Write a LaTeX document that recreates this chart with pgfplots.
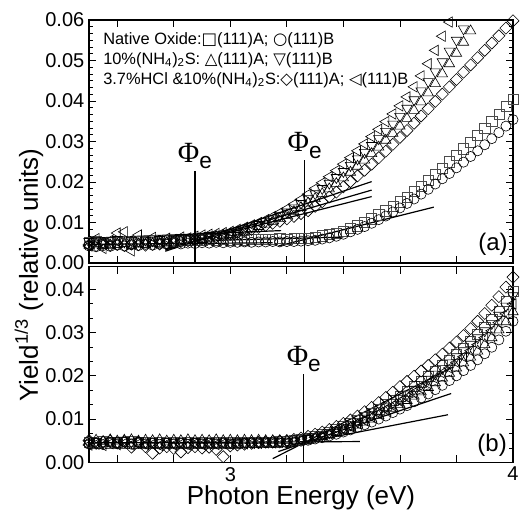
\documentclass[border=0pt]{standalone}
\usepackage{fontspec}
\setmainfont{Liberation Sans}
\newfontfamily\symf{DejaVu Sans}
\newfontfamily\serf{Liberation Serif}
\usepackage{pgfplots}
\usepackage{pgfplotstable}
\pgfplotsset{compat=1.18}

% yield^(1/3) in units of 1e-3; columns: square circle up-tri down-tri diamond left-tri
\pgfplotstableread{
E     sq   ci   tu   td   di   tl
2.500 5.0  4.2  4.4  5.3  4.5  4.2
2.525 5.3  4.0  4.7  5.6  4.3  6.0
2.550 4.9  4.3  4.5  5.0  4.8  3.6
2.575 5.2  4.1  4.3  5.5  4.4  5.6
2.600 5.1  4.4  4.6  5.8  4.6  7.4
2.625 5.4  4.2  4.8  5.2  4.3  7.7
2.650 5.0  4.5  4.4  5.6  4.7  3.0
2.675 5.3  4.3  4.7  5.4  4.5  6.9
2.700 5.2  4.6  4.5  5.7  4.4  5.2
2.725 5.5  4.4  4.8  5.5  4.6  6.3
2.750 5.3  4.7  4.6  5.8  4.7  5.5
2.775 5.5  4.6  4.9  5.9  4.9  6.1
2.800 5.4  4.8  5.0  6.0  5.1  5.8
2.825 5.6  4.7  5.2  6.1  5.3  6.4
2.850 5.5  4.9  5.4  6.2  5.5  6.2
2.875 5.7  4.8  5.6  6.4  5.7  6.6
2.900 5.6  5.0  5.8  6.6  5.9  6.9
2.925 5.8  4.9  6.1  6.8  6.2  7.1
2.950 5.7  5.1  6.4  7.0  6.5  7.3
2.975 5.8  5.0  6.7  7.2  6.8  7.5
3.000 5.7  5.1  7.0  7.4  7.1  7.8
3.025 5.8  5.1  7.4  7.9  7.5  8.3
3.050 5.7  5.2  7.9  8.4  7.9  8.8
3.075 5.9  5.1  8.4  8.9  8.3  9.4
3.100 5.8  5.2  9.0  9.5  8.8  10.0
3.125 5.9  5.2  9.6  10.2 9.3  10.7
3.150 5.8  5.3  10.3 10.9 9.8  11.5
3.175 6.0  5.2  11.0 11.7 10.3 12.4
3.200 5.9  5.3  11.8 12.6 10.9 13.4
3.225 6.0  5.3  12.7 13.6 11.5 14.5
3.250 6.1  5.4  13.7 14.7 12.2 15.7
3.275 6.2  5.5  14.8 15.9 12.9 17.0
3.300 6.4  5.6  15.9 17.1 14.0 18.4
3.325 6.7  5.9  17.1 18.4 15.1 19.8
3.350 7.0  6.2  18.3 19.7 16.3 21.3
3.375 7.4  6.6  19.6 21.1 17.5 22.8
3.400 7.9  7.1  21.0 22.6 18.8 24.4
3.425 8.5  7.7  22.4 24.1 20.1 26.0
3.450 9.2  8.3  23.9 25.7 21.5 27.7
3.475 10.0 9.0  25.4 27.3 22.9 29.4
3.500 10.9 9.8  27.0 29.0 24.4 31.2
3.525 11.9 10.7 28.6 30.7 26.0 33.0
3.550 12.9 11.6 30.3 32.5 27.6 34.9
3.575 14.0 12.6 32.0 34.3 29.3 36.8
3.600 15.1 13.6 33.8 36.2 31.0 38.8
3.625 16.3 14.7 35.7 38.2 32.7 41.0
3.650 17.6 15.8 37.7 40.3 34.5 43.5
3.675 19.0 17.0 39.8 42.5 36.3 46.2
3.700 20.4 18.2 42.0 44.8 38.1 49.2
3.725 21.9 19.5 44.3 47.2 39.9 52.5
3.750 23.4 20.8 46.7 49.7 41.7 56.0
3.775 25.0 22.1 49.2 52.3 43.5 59.5
3.800 26.6 23.5 51.8 55.0 45.3 nan
3.825 28.2 24.9 54.5 57.8 47.1 nan
3.850 29.9 26.3 57.3 60.7 48.9 nan
3.875 31.6 27.7 60.2 nan  50.7 nan
3.900 33.3 29.2 nan  nan  52.5 nan
3.925 35.0 30.7 nan  nan  54.3 nan
3.950 36.8 32.2 nan  nan  56.1 nan
3.975 38.6 33.8 nan  nan  58.0 nan
4.000 40.5 35.4 nan  nan  59.8 nan
}\topdata

\pgfplotstableread{
E     sq   ci   tu   td   di   tl
2.500 4.6  4.2  4.9  4.4  5.0  4.0
2.525 4.3  4.5  5.1  4.9  4.4  4.2
2.550 4.8  4.1  4.8  4.5  4.7  3.9
2.575 4.4  4.6  5.2  5.0  4.9  4.3
2.600 4.7  4.3  4.9  4.6  4.5  4.1
2.625 4.5  4.7  5.1  5.1  4.8  4.4
2.650 4.8  4.2  5.2  4.7  3.5  4.0
2.675 4.4  4.6  4.9  5.0  4.6  4.3
2.700 4.6  4.3  5.1  4.6  3.6  4.1
2.725 4.3  4.5  5.0  4.9  2.1  4.2
2.750 4.6  4.2  5.2  4.5  3.3  3.9
2.775 4.4  4.5  4.9  4.8  3.6  4.2
2.800 4.6  4.3  5.1  4.6  3.2  4.0
2.825 4.3  4.5  5.0  4.9  2.4  4.2
2.850 4.6  4.2  5.2  4.6  3.4  4.0
2.875 4.4  4.5  5.0  4.8  3.6  4.3
2.900 4.6  4.3  5.1  4.6  3.3  4.1
2.925 4.4  4.5  5.0  4.9  3.5  4.3
2.950 4.6  4.3  5.2  4.6  3.0  4.1
2.975 4.5  4.5  5.0  4.8  1.3  4.3
3.000 4.6  4.3  5.1  4.6  3.8  4.2
3.025 4.5  4.5  5.0  4.8  4.0  4.3
3.050 4.6  4.4  5.1  4.7  4.2  4.3
3.075 4.6  4.5  5.0  4.8  4.4  4.4
3.100 4.7  4.4  5.1  4.7  4.6  4.4
3.125 4.7  4.5  5.0  4.8  4.7  4.5
3.150 4.7  4.5  5.0  4.7  4.8  4.5
3.175 4.8  4.5  5.0  4.8  4.9  4.6
3.200 4.8  4.5  5.0  4.7  5.0  4.6
3.225 5.0  4.7  5.0  4.9  5.3  4.9
3.250 5.3  4.9  5.1  5.2  5.6  5.1
3.275 5.6  5.1  5.3  5.5  6.0  5.4
3.300 6.0  5.4  5.6  5.9  6.5  5.8
3.325 6.5  5.7  6.0  6.3  7.0  6.2
3.350 7.0  6.1  6.4  6.8  7.6  6.6
3.375 7.6  6.5  6.9  7.4  8.3  7.1
3.400 8.2  7.0  7.4  8.0  9.0  7.7
3.425 8.9  7.5  8.0  8.7  9.8  8.3
3.450 9.7  8.1  8.6  9.4  10.7 9.0
3.475 10.5 8.7  9.3  10.2 11.7 9.7
3.500 11.4 9.3  10.0 11.0 12.7 10.5
3.525 12.3 10.0 10.8 11.9 13.8 11.3
3.550 13.3 10.7 11.6 12.8 15.0 12.2
3.575 14.3 11.5 12.5 13.8 16.2 13.1
3.600 15.3 12.3 13.4 14.8 17.5 14.1
3.625 16.4 13.1 14.3 15.8 18.7 15.0
3.650 17.5 14.0 15.3 16.9 19.9 16.1
3.675 18.6 14.9 16.3 18.0 21.1 17.1
3.700 19.8 15.8 17.3 19.2 22.4 18.2
3.725 21.0 16.8 18.4 20.4 23.7 19.4
3.750 22.3 17.8 19.5 21.7 25.0 20.6
3.775 23.6 18.9 20.6 23.0 26.4 21.8
3.800 25.0 20.0 21.8 24.4 27.8 23.1
3.825 26.4 21.2 23.0 25.8 29.3 24.4
3.850 27.9 22.4 24.3 27.3 30.9 25.8
3.875 29.5 23.7 25.7 28.8 32.6 27.2
3.900 31.2 25.1 27.2 30.4 34.4 28.8
3.925 33.0 26.6 28.8 32.1 36.3 30.4
3.950 35.0 28.3 30.6 34.0 38.3 32.3
3.975 37.2 30.3 32.5 36.1 40.5 34.3
4.000 39.6 32.6 34.8 38.5 42.8 36.6
}\botdata

\newcommand{\phie}{{\fontsize{22}{22}\selectfont\serf Φ}{\fontsize{17}{17}\selectfont\raisebox{-0.55ex}{e}}}

\begin{document}
\begin{tikzpicture}
\pgfplotsset{
  panel/.style={scale only axis, width=318pt, xmin=2.5, xmax=4,
    xtick={2.6,2.8,3,3.2,3.4,3.6,3.8,4},
    tick align=inside, major tick length=5.5pt, minor tick length=3pt,
    every tick/.append style={black, line width=0.6pt},
    axis line style={line width=0.8pt},
    tick label style={font=\fontsize{15}{15}\selectfont},
    /pgf/number format/assume math mode=true},
  msq/.style={only marks, mark=square, mark size=3.8pt,
    mark options={draw=black!70, line width=0.45pt}},
  mci/.style={only marks, mark=o, mark size=3.8pt,
    mark options={draw=black, line width=0.45pt}},
  mtu/.style={only marks, mark=triangle, mark size=4.5pt,
    mark options={draw=black, line width=0.45pt}},
  mtd/.style={only marks, mark=triangle, mark size=4.5pt,
    mark options={draw=black, line width=0.45pt, rotate=180}},
  mtl/.style={only marks, mark=triangle, mark size=4.5pt,
    mark options={draw=black, line width=0.45pt, rotate=90}},
  mdi/.style={only marks, mark=square, mark size=3.2pt,
    mark options={draw=black, line width=0.45pt, rotate=45}},
  fit/.style={black, line width=0.9pt, no marks},
}

% top panel (a)
\begin{axis}[panel, at={(0,0)}, anchor=south west, height=182.25pt,
  ymin=0, ymax=60, ytick={0,10,20,30,40,50,60},
  yticklabels={0.00,0.01,0.02,0.03,0.04,0.05,0.06},
  minor y tick num=5, xticklabels={,,,,,,,}]
\addplot[msq] table[x=E,y=sq]{\topdata};
\addplot[mci] table[x=E,y=ci]{\topdata};
\addplot[mdi] table[x=E,y=di]{\topdata};
\addplot[mtu] table[x=E,y=tu]{\topdata};
\addplot[mtd] table[x=E,y=td]{\topdata};
\addplot[mtl] table[x=E,y=tl]{\topdata};
\addplot[fit] coordinates {(2.77,2.9) (3.50,20.1)};
\addplot[fit] coordinates {(2.77,3.2) (3.50,18.0)};
\addplot[fit] coordinates {(2.77,3.5) (3.50,16.4)};
\addplot[fit] coordinates {(2.50,6.1) (3.18,8.0)};
\addplot[fit] coordinates {(2.50,4.6) (3.15,5.0)};
\addplot[fit] coordinates {(2.95,5.6) (3.40,6.4)};
\addplot[fit] coordinates {(3.17,4.2) (3.72,13.8)};
\addplot[black, line width=0.8pt] coordinates {(2.875,0) (2.875,22.8)};
\addplot[black, line width=0.8pt] coordinates {(3.263,0) (3.263,25.4)};
\node[anchor=south, inner sep=1pt] at (axis cs:2.875,22.8) {\phie};
\node[anchor=south, inner sep=1pt] at (axis cs:3.263,25.4) {\phie};
\node[anchor=north west, inner sep=0pt, align=left,
  font=\fontsize{12.3}{15}\selectfont] at (rel axis cs:0.033,0.95)
  {Native Oxide:{\symf □}(111)A; {\symf ○}(111)B\\
   10\%(NH\textsubscript{4})\textsubscript{2}S: {\symf △}(111)A; {\symf ▽}(111)B\\
   3.7\%HCl \&10\%(NH\textsubscript{4})\textsubscript{2}S:{\symf ◇}(111)A; {\symf ◁}(111)B};
\node[anchor=south east, inner sep=0pt, font=\fontsize{18}{18}\selectfont]
  at (rel axis cs:0.988,0.03) {(a)};
\end{axis}

% bottom panel (b)
\begin{axis}[panel, at={(0,-2.5pt)}, anchor=north west, height=147pt,
  ymin=0, ymax=45.3, ytick={0,10,20,30,40},
  yticklabels={0.00,0.01,0.02,0.03,0.04},
  minor y tick num=2, xticklabels={,,3,,,,,4}]
\addplot[msq] table[x=E,y=sq]{\botdata};
\addplot[mci] table[x=E,y=ci]{\botdata};
\addplot[mtu] table[x=E,y=tu]{\botdata};
\addplot[mtd] table[x=E,y=td]{\botdata};
\addplot[mtl] table[x=E,y=tl]{\botdata};
\addplot[mdi] table[x=E,y=di]{\botdata};
\addplot[fit] coordinates {(3.15,0.85) (3.787,22.0)};
\addplot[fit] coordinates {(3.17,2.5) (3.781,15.9)};
\addplot[fit] coordinates {(3.20,3.8) (3.77,11.0)};
\addplot[fit] coordinates {(2.50,4.5) (3.458,4.8)};
\addplot[black, line width=0.8pt] coordinates {(3.26,0) (3.26,20.5)};
\node[anchor=south, inner sep=1pt] at (axis cs:3.26,20.5) {\phie};
\node[anchor=south east, inner sep=0pt, font=\fontsize{18}{18}\selectfont]
  at (rel axis cs:0.986,0.03) {(b)};
\end{axis}

\node[rotate=90, anchor=base, font=\fontsize{19.5}{20}\selectfont]
  at (-38.25pt,-9pt) {Yield\textsuperscript{1/3} (relative units)};
\node[anchor=base, font=\fontsize{19.5}{20}\selectfont]
  at (159pt,-181.5pt) {Photon Energy (eV)};

\pgfresetboundingbox
\path (-66.75pt,-187.5pt) rectangle (330pt,197.25pt);
\end{tikzpicture}
\end{document}
